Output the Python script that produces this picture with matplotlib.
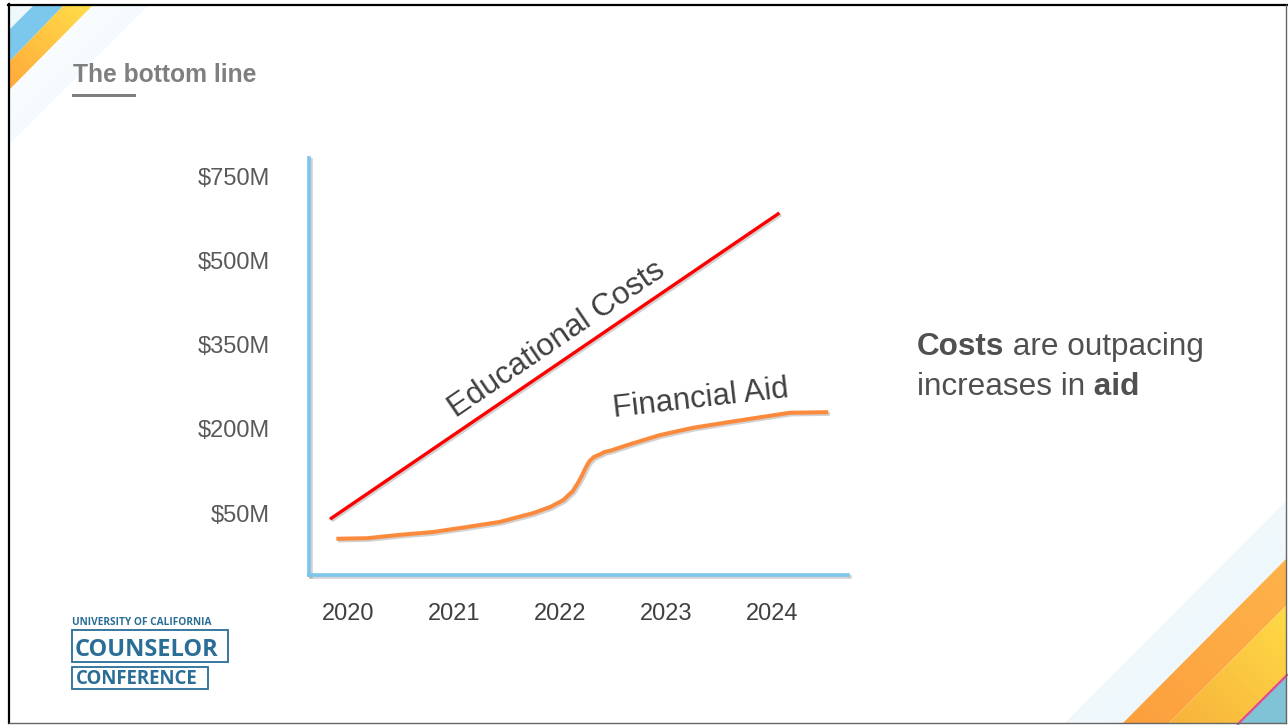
import numpy as np
import matplotlib
matplotlib.use('Agg')
from matplotlib import pyplot as plt
from matplotlib.patches import Polygon, Rectangle
from matplotlib.colors import LinearSegmentedColormap
import matplotlib.patheffects as pe

plt.rcParams['font.family'] = ['Liberation Sans', 'DejaVu Sans']

# --- data ---
x_ticks = [2020, 2021, 2022, 2023, 2024]
y_ticks = [50, 200, 350, 500, 750]
y_labels = ['$50M', '$200M', '$350M', '$500M', '$750M']

cost_years = [2019.83, 2024.07]
cost_vals = [39, 643]

aid_years = [2019.89, 2020.18, 2020.49, 2020.80, 2021.12, 2021.43, 2021.75, 2021.91,
             2022.03, 2022.12, 2022.17, 2022.21, 2022.24, 2022.26, 2022.28, 2022.32,
             2022.38, 2022.42, 2022.47, 2022.63, 2022.94, 2023.25, 2023.58, 2023.89,
             2024.17, 2024.53]
aid_vals = [4, 5, 11, 16, 25, 34, 50, 61,
            73, 89, 104, 118, 130, 137, 143, 150,
            155, 159, 161, 171, 189, 202, 212, 221,
            229, 230]

# tick values are evenly spaced on the axis -> piecewise linear scale
knot_vals = [-400] + y_ticks + [1250]
knot_pos = [-3, 0, 1, 2, 3, 4, 6]


def fwd(v):
    return np.interp(v, knot_vals, knot_pos)


def inv(p):
    return np.interp(p, knot_pos, knot_vals)


def grad_poly(ax, verts, c1, c2, diag='up', z=1):
    poly = Polygon(verts, closed=True, facecolor='none', edgecolor='none')
    ax.add_patch(poly)
    xs = [v[0] for v in verts]
    ys = [v[1] for v in verts]
    xx, yy = np.meshgrid(np.linspace(0, 1, 200), np.linspace(0, 1, 200))
    if diag == 'up':
        g = (xx + (1 - yy)) / 2
    else:
        g = (xx + yy) / 2
    cmap = LinearSegmentedColormap.from_list('g', [c1, c2])
    im = ax.imshow(g, cmap=cmap, extent=(min(xs), max(xs), max(ys), min(ys)),
                   aspect='auto', zorder=z, interpolation='bilinear')
    im.set_clip_path(poly)


fig = plt.figure(figsize=(12.88, 7.25), dpi=100)

# --- slide background / decorations (pixel coords) ---
bg = fig.add_axes([0, 0, 1, 1])
bg.axis('off')

# top-left corner
bg.add_patch(Polygon([(9, 6), (33, 6), (9, 30)], color='#eef8fd', lw=0))
grad_poly(bg, [(92, 6), (148, 6), (9, 145), (9, 90)], '#ffffff', '#eaf6fc', 'down', 1)
bg.add_patch(Polygon([(33, 6), (63, 6), (9, 62), (9, 30)], color='#7cc8ec', lw=0))
grad_poly(bg, [(63, 6), (92, 6), (9, 90), (9, 62)], '#ffa93a', '#ffde4a', 'up', 2)

# bottom-right corner
grad_poly(bg, [(1287, 500), (1287, 558), (1122, 724), (1064, 724)], 'white', '#e4f3fb', 'down', 1)
grad_poly(bg, [(1287, 558), (1287, 605), (1168, 724), (1122, 724)], '#fc9f3e', '#feb34a', 'up', 2)
grad_poly(bg, [(1287, 605), (1287, 675), (1238, 724), (1168, 724)], '#f7b23c', '#ffda45', 'up', 2)
bg.add_patch(Polygon([(1287, 675), (1287, 724), (1238, 724)], color='#80c3d6', lw=0, zorder=3))
bg.plot([1287, 1238], [675, 724], color='#e6478f', lw=1.6, zorder=4)

# slide frame
bg.plot([9, 9], [4, 723], color='black', lw=1.6, zorder=5)
bg.plot([8, 1287], [5, 5], color='black', lw=1.6, zorder=5)
bg.plot([1286, 1286], [5, 723], color='#666666', lw=1.0, zorder=5)
bg.plot([9, 1286], [723, 723], color='#666666', lw=1.0, zorder=5)

# title
bg.text(73, 82, 'The bottom line', fontsize=17.7, fontweight='bold', color='#7f7f7f',
        va='baseline', ha='left', zorder=6)
bg.add_patch(Rectangle((72, 94), 64, 3.3, color='#7f7f7f', lw=0, zorder=6))

# right hand message
txt_c = '#505050'
t1 = bg.text(917, 355, 'Costs', fontsize=22.7, fontweight='bold', color=txt_c, va='baseline', zorder=6)
bg.annotate(' are outpacing', xy=(1, 0), xycoords=t1, va='bottom', ha='left',
            fontsize=22.7, color=txt_c, zorder=6)
t2 = bg.text(917, 395, 'increases in', fontsize=22.7, color=txt_c, va='baseline', zorder=6)
bg.annotate(' aid', xy=(1, 0), xycoords=t2, va='bottom', ha='left',
            fontsize=22.7, fontweight='bold', color=txt_c, zorder=6)

# logo
logo_c = '#2a6d96'
bg.text(72, 625, 'UNIVERSITY OF CALIFORNIA', fontsize=7.3, fontweight='bold', color=logo_c,
        family=['Open Sans', 'DejaVu Sans'], va='baseline', zorder=6)
bg.add_patch(Rectangle((72.5, 630), 156, 32, fill=False, edgecolor=logo_c, lw=1.3, zorder=6))
bg.text(75, 655.5, 'COUNSELOR', fontsize=17, fontweight='bold', color=logo_c,
        family=['Open Sans', 'DejaVu Sans'], va='baseline', zorder=6)
bg.add_patch(Rectangle((72.5, 666.5), 136, 22, fill=False, edgecolor=logo_c, lw=1.3, zorder=6))
bg.text(76, 684, 'CONFERENCE', fontsize=13.4, fontweight='bold', color=logo_c,
        family=['Open Sans', 'DejaVu Sans'], va='baseline', zorder=6)

bg.set_xlim(0, 1288)
bg.set_ylim(725, 0)

# --- chart ---
ax = fig.add_axes([309 / 1288, 1 - 575 / 725, (848 - 309) / 1288, (575 - 158) / 725])
ax.patch.set_visible(False)
ax.set_yscale('function', functions=(fwd, inv))
ax.set_xlim(2019.632, 2024.717)
ax.set_ylim(-60.7, 806.5)

shadow = [pe.SimpleLineShadow(offset=(1.2, -1.2), shadow_color='gray', alpha=0.35), pe.Normal()]

ax.plot(cost_years, cost_vals, color='#ff0000', lw=2.4, solid_capstyle='butt',
        path_effects=shadow, clip_on=False)
ax.plot(aid_years, aid_vals, color='#fb8a3c', lw=2.9, solid_capstyle='butt',
        solid_joinstyle='round', path_effects=shadow, clip_on=False)

ax.text(2021.97, 359, 'Educational Costs', rotation=34.3, rotation_mode='anchor',
        ha='center', va='center', fontsize=22.8, color='#404040')
ax.text(2023.33, 254, 'Financial Aid', rotation=6.5, rotation_mode='anchor',
        ha='center', va='center', fontsize=22.4, color='#404040')

for s in ['top', 'right']:
    ax.spines[s].set_visible(False)
for s in ['left', 'bottom']:
    ax.spines[s].set_color('#7cc6ea')
    ax.spines[s].set_linewidth(2.6)
    ax.spines[s].set_path_effects(shadow)

ax.set_xticks(x_ticks, labels=[str(x) for x in x_ticks])
ax.set_yticks(y_ticks, labels=y_labels)
ax.minorticks_off()
ax.tick_params(axis='y', length=0, pad=28, labelsize=17, labelcolor='#595959')
ax.tick_params(axis='x', length=0, pad=20, labelsize=17, labelcolor='#404040')

fig.savefig('out.png', dpi=100)
